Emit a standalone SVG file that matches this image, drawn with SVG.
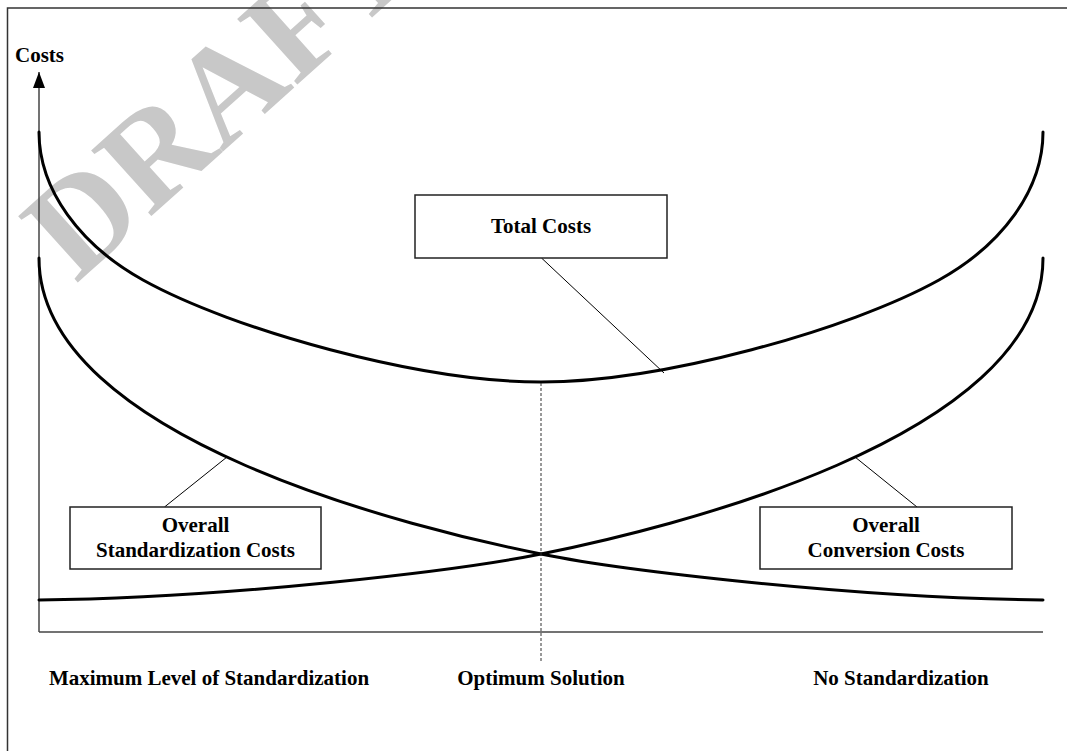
<svg xmlns="http://www.w3.org/2000/svg" width="1067" height="751" viewBox="0 0 1067 751">
  <style>
    .lbl { font-family: "Liberation Serif", "Times New Roman", serif; font-weight: bold; font-size: 21px; fill: #000; }
    .mid { text-anchor: middle; }
    .curve { fill: none; stroke: #000; stroke-width: 3; stroke-linecap: round; }
    .axis { fill: none; stroke: #444; stroke-width: 1.5; }
    .box { fill: #fff; stroke: #222; stroke-width: 1.5; }
    .lead { fill: none; stroke: #000; stroke-width: 1; }
  </style>
  <defs>
    <!-- arrowhead drawn along +x so orient="auto" points it along the line -->
    <marker id="arrowUp" viewBox="0 0 16 12" refX="16" refY="6" markerWidth="16" markerHeight="12" markerUnits="userSpaceOnUse" orient="auto">
      <path d="M0,0 L16,6 L0,12 Z" fill="#000"/>
    </marker>
  </defs>

  <rect width="1067" height="751" fill="#fff"/>

  <!-- watermark -->
  <text x="76" y="284" transform="rotate(-42 76 284)" font-family="Liberation Serif, serif" font-weight="bold" font-size="136" fill="#c8c8c8">DRAFT</text>

  <!-- page frame -->
  <path d="M7.5,751 V8 H1067" fill="none" stroke="#333" stroke-width="1.5"/>

  <!-- axes -->
  <g id="axes">
    <line class="axis" x1="39" y1="632" x2="39" y2="72" marker-end="url(#arrowUp)"/>
    <line class="axis" x1="39" y1="632" x2="1043" y2="632"/>
    <text class="lbl" x="15" y="62">Costs</text>
  </g>

  <!-- cost curves -->
  <g id="curves">
    <path id="total-curve" class="curve" d="M39,132 C39,190 80,245 143,280 C233,330 420,382 541,382 C662,382 849,330 939,280 C1002,245 1043,190 1043,132"/>
    <path id="standardization-curve" class="curve" d="M39,258 C39,440 421,530 541,554 C620,570 850,598 1043,600"/>
    <path id="conversion-curve" class="curve" d="M1043,258 C1043,440 661,530 541,554 C462,570 232,598 39,600"/>
  </g>

  <!-- connectors -->
  <g id="connectors">
    <line class="lead" x1="541.5" y1="258" x2="664" y2="373"/>
    <line class="lead" x1="164.5" y1="507" x2="227" y2="457"/>
    <line class="lead" x1="917" y1="507" x2="855" y2="457"/>
    <line x1="541" y1="383" x2="541" y2="662" stroke="#333" stroke-width="1" stroke-dasharray="3,2"/>
  </g>

  <g id="total-costs">
    <rect class="box" x="415" y="195" width="252" height="63"/>
    <text class="lbl mid" x="541" y="233">Total Costs</text>
  </g>

  <g id="standardization-costs">
    <rect class="box" x="70" y="507" width="251" height="62"/>
    <text class="lbl mid" x="195.5" y="532">Overall</text>
    <text class="lbl mid" x="195.5" y="557">Standardization Costs</text>
  </g>

  <g id="conversion-costs">
    <rect class="box" x="760" y="507" width="252" height="62"/>
    <text class="lbl mid" x="886" y="532">Overall</text>
    <text class="lbl mid" x="886" y="557">Conversion Costs</text>
  </g>

  <g id="axis-labels">
    <text class="lbl mid" x="209" y="685">Maximum Level of Standardization</text>
    <text class="lbl mid" x="541" y="685">Optimum Solution</text>
    <text class="lbl mid" x="901" y="685">No Standardization</text>
  </g>
</svg>
